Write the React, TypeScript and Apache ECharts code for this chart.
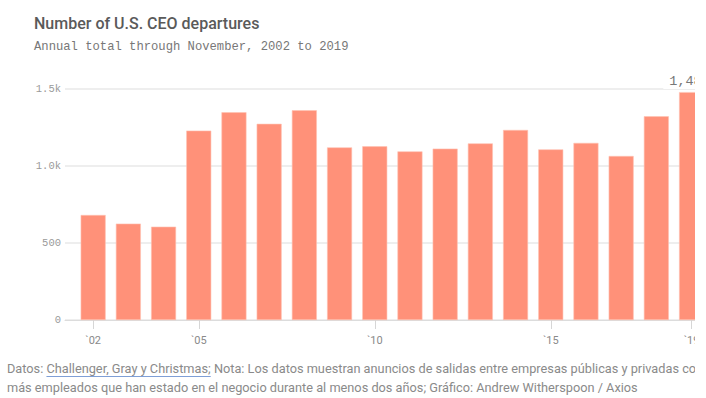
import React, { useEffect, useRef } from "react";
import * as echarts from "echarts";

const years = [2002, 2003, 2004, 2005, 2006, 2007, 2008, 2009, 2010, 2011, 2012, 2013, 2014, 2015, 2016, 2017, 2018, 2019];
const departures = [682, 626, 606, 1230, 1349, 1274, 1362, 1121, 1128, 1095, 1113, 1147, 1234, 1108, 1150, 1065, 1323, 1480];
const tickYears = [2002, 2005, 2010, 2015, 2019];
const yTickLabels: Record<number, string> = { 0: "0", 500: "500", 1000: "1.0k", 1500: "1.5k" };

const title = "Number of U.S. CEO departures";
const subtitle = "Annual total through November, 2002 to 2019";
const footerLine1a = "Datos: ";
const footerLink = "Challenger, Gray y Christmas;";
const footerLine1b = " Nota: Los datos muestran anuncios de salidas entre empresas públicas y privadas co";
const footerLine2 = "más empleados que han estado en el negocio durante al menos dos años; Gráfico: Andrew Witherspoon / Axios";

const BAR = "#FF9179";
const FOOT_FONT = "Roboto";
const FOOT_SIZE = 12.75;

function measure(text: string, font: string): number {
  const c = document.createElement("canvas");
  const ctx = c.getContext("2d");
  if (!ctx) return text.length * 6.3;
  ctx.font = font;
  return ctx.measureText(text).width;
}

export default function App() {
  const ref = useRef<HTMLDivElement>(null);
  useEffect(() => {
    if (!ref.current) return;
    const chart = echarts.init(ref.current, undefined, { renderer: "svg" });
    const last = years.length - 1;
    const footFont = `${FOOT_SIZE}px ${FOOT_FONT}`;
    const x0 = 7;
    const wA = measure(footerLine1a, footFont);
    const wL = measure(footerLink, footFont);
    const footStyle = { fontFamily: FOOT_FONT, fontSize: FOOT_SIZE, fill: "#8a8a8a" };
    chart.setOption({
      animation: false,
      backgroundColor: "#ffffff",
      grid: { left: 65, right: 13.8, top: 89, bottom: 78, containLabel: false },
      xAxis: {
        type: "value",
        min: 2001.2,
        max: 2019.7,
        splitLine: { show: false },
        axisLine: { show: true, lineStyle: { color: "#dcdcdc", width: 1 } },
        axisTick: {
          show: true,
          customValues: tickYears,
          length: 9,
          lineStyle: { color: "#d6d6d6" },
        },
        axisLabel: {
          customValues: tickYears,
          formatter: (v: number) => "`" + String(v).slice(2),
          color: "#8a8a8a",
          fontFamily: "Roboto",
          fontSize: 11,
          margin: 15,
        },
      },
      yAxis: {
        type: "value",
        min: 0,
        max: 1500,
        interval: 500,
        axisLine: { show: false },
        axisTick: { show: false },
        splitLine: { lineStyle: { color: "#e8e8e8", width: 1.5 } },
        axisLabel: {
          formatter: (v: number) => yTickLabels[v] ?? String(v),
          color: "#9a9a9a",
          fontFamily: "Liberation Mono",
          fontSize: 10.5,
          margin: 4,
        },
      },
      series: [
        {
          type: "bar",
          barWidth: 25,
          data: years.map((y, i) => ({
            value: [y, departures[i]],
            label:
              i === last
                ? {
                    show: true,
                    position: "top",
                    distance: 3,
                    offset: [-4, 0],
                    formatter: () => departures[i].toLocaleString("en-US"),
                    fontFamily: "Liberation Mono",
                    fontSize: 13.5,
                    color: "#777777",
                    backgroundColor: "#ffffff",
                    padding: [1, 2, 1, 6],
                  }
                : { show: false },
          })),
          itemStyle: { color: BAR, borderColor: "#ffc2b3", borderWidth: 0.6 },
        },
      ],
      graphic: [
        {
          type: "text",
          left: 34,
          top: 15,
          style: { text: title, fontFamily: "Roboto", fontSize: 16, fontWeight: 500, fill: "#5a5a5a" },
        },
        {
          type: "text",
          left: 34,
          top: 41,
          style: { text: subtitle, fontFamily: "Liberation Mono", fontSize: 12.2, fill: "#777777" },
        },
        {
          type: "text",
          x: x0,
          y: 362,
          style: { text: footerLine1a, ...footStyle },
        },
        {
          type: "text",
          x: x0 + wA,
          y: 362,
          style: { text: footerLink, ...footStyle },
        },
        {
          type: "text",
          x: x0 + wA + wL,
          y: 362,
          style: { text: footerLine1b, ...footStyle },
        },
        {
          type: "line",
          shape: { x1: x0 + wA, y1: 376.5, x2: x0 + wA + wL, y2: 376.5 },
          style: { stroke: "#7f9fd6", lineWidth: 1 },
        },
        {
          type: "text",
          x: x0,
          y: 381,
          style: { text: footerLine2, ...footStyle },
        },
      ],
    });
    return () => chart.dispose();
  }, []);
  return (
    <div style={{ position: "fixed", left: 0, top: 0, width: 706, height: 398, background: "#fff" }}>
      <div style={{ width: 695, height: 398, overflow: "hidden" }}>
        <div ref={ref} style={{ width: 730, height: 398 }} />
      </div>
    </div>
  );
}
